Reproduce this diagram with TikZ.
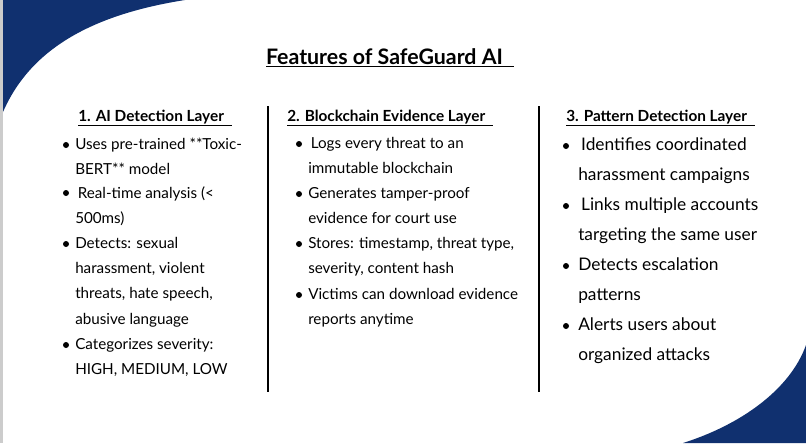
\documentclass[tikz,border=0pt]{standalone}
\usepackage{fontspec}
\setmainfont{Lato}
\definecolor{navy}{HTML}{10306F}
\begin{document}
\begin{tikzpicture}[x=0.75pt,y=-0.75pt,
  ln/.style={anchor=base west,inner sep=0pt,font=\fontsize{11.4}{13}\selectfont},
  lnb/.style={anchor=base west,inner sep=0pt,font=\fontsize{13}{15}\selectfont},
  hd/.style={anchor=base west,inner sep=0pt,font=\bfseries\fontsize{11.5}{14}\selectfont},
  bul/.style={circle,fill=black,inner sep=0pt,minimum size=4.5pt}]
\useasboundingbox (0,0) rectangle (806,443);
\fill[white] (0,0) rectangle (806,443);
\fill[gray!40] (0,0) rectangle (3,443);
\fill[navy] (3,0) -- (185,0) .. controls (90,15) and (30,50) .. (3,112) -- cycle;
\fill[navy] (683,443) .. controls (740,425) and (790,390) .. (806,345) -- (806,443) -- cycle;
\node[anchor=base,inner sep=0pt,font=\bfseries\fontsize{16}{19}\selectfont] (title) at (390,64) {\underline{Features of SafeGuard AI\phantom{x}}};
\draw[line width=1.2pt] (268,106) -- (268,392);
\draw[line width=1.2pt] (539,106) -- (539,392);
\node[hd] (h1) at (78,121) {\underline{1. AI Detection Layer\phantom{x}}};
\node[hd] (h2) at (287,121) {\underline{2. Blockchain Evidence Layer\phantom{x}}};
\node[hd] (h3) at (566,121) {\underline{3. Pattern Detection Layer\phantom{x}}};
% column 1
\foreach \y in {144,192,243,344} \node[bul] at (66,\y+1) {};
\foreach \t/\y [count=\i] in {{Uses pre-trained **Toxic-}/149,{BERT** model}/174,{\,Real-time analysis (<}/198,{500ms)}/223,{Detects: sexual}/248,{harassment, violent}/273,{threats, hate speech,}/298,{abusive language}/324,{Categorizes severity:}/349,{HIGH, MEDIUM, LOW}/374}
  \node[ln] (a\i) at (75,\y) {\t};
% column 2
\foreach \y in {143,193,243,294} \node[bul] at (299,\y+1) {};
\foreach \t/\y [count=\i] in {{\,Logs every threat to an}/148,{immutable blockchain}/173,{Generates tamper-proof}/198,{evidence for court use}/223,{Stores: timestamp, threat type,}/248,{severity, content hash}/273,{Victims can download evidence}/299,{reports anytime}/324}
  \node[ln] (b\i) at (308,\y) {\t};
% column 3
\foreach \y in {145,205,265,325} \node[bul] at (566,\y+1) {};
\foreach \t/\y [count=\i] in {{\,Identifies coordinated}/150,{harassment campaigns}/180,{\,Links multiple accounts}/210,{targeting the same user}/240,{Detects escalation}/270,{patterns}/300,{Alerts users about}/330,{organized attacks}/360}
  \node[lnb] (c\i) at (578,\y) {\t};
\end{tikzpicture}
\end{document}
